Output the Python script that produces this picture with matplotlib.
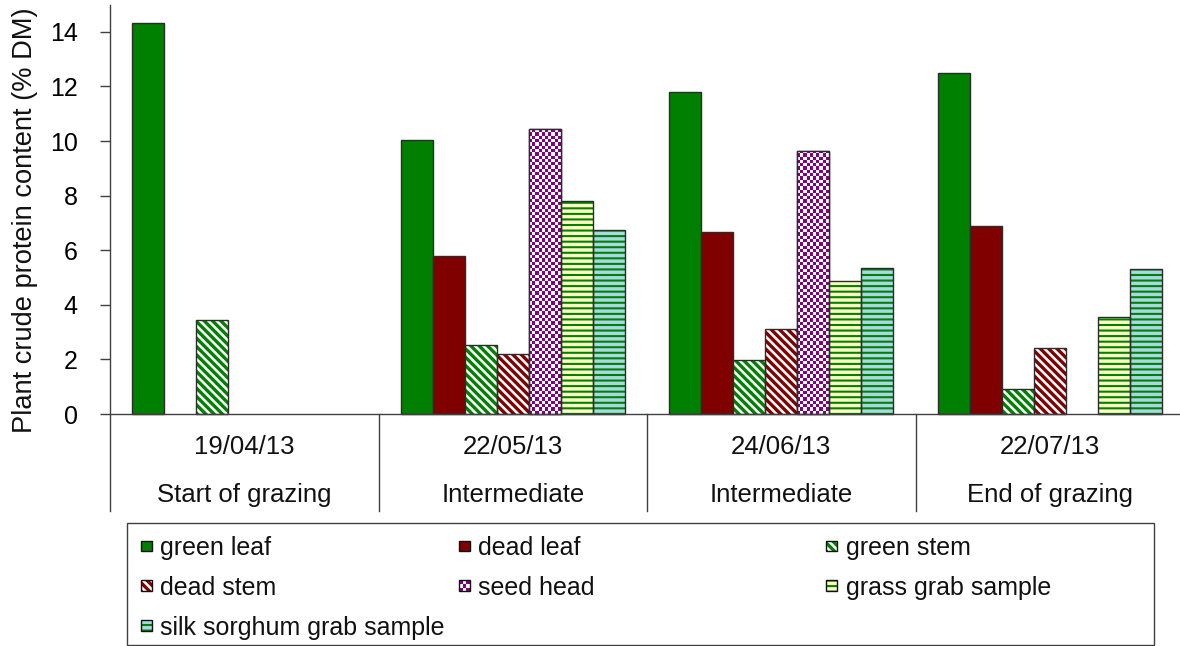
import numpy as np
import matplotlib
matplotlib.use('Agg')
import matplotlib.pyplot as plt
from matplotlib.patches import Rectangle
from matplotlib.colors import ListedColormap
from matplotlib.legend_handler import HandlerBase

plt.rcParams['font.family'] = ['Liberation Sans', 'DejaVu Sans']
plt.rcParams['hatch.linewidth'] = 2.0

# ---------------- data ----------------
dates = ['19/04/13', '22/05/13', '24/06/13', '22/07/13']
stages = ['Start of grazing', 'Intermediate', 'Intermediate', 'End of grazing']
components = ['green leaf', 'dead leaf', 'green stem', 'dead stem',
              'seed head', 'grass grab sample', 'silk sorghum grab sample']
nan = np.nan
green_leaf = [14.34, 10.04, 11.80, 12.50]
dead_leaf = [nan, 5.79, 6.68, 6.90]
green_stem = [3.44, 2.54, 1.98, 0.92]
dead_stem = [nan, 2.21, 3.11, 2.42]
seed_head = [nan, 10.43, 9.64, nan]
grass_grab = [nan, 7.80, 4.87, 3.55]
silk_sorghum = [nan, 6.73, 5.35, 5.31]
series = [green_leaf, dead_leaf, green_stem, dead_stem, seed_head, grass_grab, silk_sorghum]
yticks = [0, 2, 4, 6, 8, 10, 12, 14]

# ---------------- styles ----------------
GREEN = '#008000'
MAROON = '#800000'
PURPLE = '#800080'
EDGE = '#2b2b2b'
styles = [
    dict(fill=GREEN, hcol=GREEN, hatch=None, checker=False, hlw=None),
    dict(fill=MAROON, hcol=MAROON, hatch=None, checker=False, hlw=None),
    dict(fill='white', hcol=GREEN, hatch='\\\\\\\\', checker=False, hlw=2.4),
    dict(fill='white', hcol=MAROON, hatch='\\\\\\\\', checker=False, hlw=2.4),
    dict(fill='white', hcol=PURPLE, hatch=None, checker=True, hlw=None),
    dict(fill='#FFFFC4', hcol=GREEN, hatch='---', checker=False, hlw=1.5),
    dict(fill='#A8D8E4', hcol=GREEN, hatch='---', checker=False, hlw=1.5),
]

W, H = 1180, 646
fig = plt.figure(figsize=(W / 100, H / 100), dpi=100)
y_bottom_px, y_top_px = 511, 4.6
ax = fig.add_axes([110 / W, (H - y_bottom_px) / H, 1074 / W, (y_bottom_px - y_top_px) / H])
YMIN, YMAX = -3.55, 15
ax.set_xlim(0, 4)
ax.set_ylim(YMIN, YMAX)

ngroups = len(dates)
centers = np.arange(ngroups) + 0.5
bw = 32 / 268.5

fig.canvas.draw()
px_per_x = ax.transData.transform((1, 0))[0] - ax.transData.transform((0, 0))[0]
px_per_y = ax.transData.transform((0, 1))[1] - ax.transData.transform((0, 0))[1]

checker_cmap = ListedColormap(['white', PURPLE])

for j, (vals, st) in enumerate(zip(series, styles)):
    xs = centers + (j - 3) * bw
    vals = np.array(vals, dtype=float)
    if st['hatch'] is None and not st['checker']:
        ax.bar(xs, vals, bw, color=st['fill'], edgecolor=EDGE, linewidth=1, zorder=2)
    elif st['hatch'] is not None:
        bars = ax.bar(xs, vals, bw, color=st['fill'], edgecolor=st['hcol'],
                      hatch=st['hatch'], linewidth=0, zorder=2)
        for b in bars:
            if hasattr(b, 'set_hatch_linewidth'):
                b.set_hatch_linewidth(st['hlw'])
        ax.bar(xs, vals, bw, fill=False, edgecolor=EDGE, linewidth=1, zorder=2.3)
    else:
        bars = ax.bar(xs, vals, bw, color='white', edgecolor=EDGE, linewidth=1, zorder=2)
        for b, x, v in zip(bars, xs, vals):
            if not np.isfinite(v):
                continue
            ncol = max(1, int(round(bw * px_per_x / 3.3)))
            nrow = max(1, int(round(v * px_per_y / 3.3)))
            ii, jj = np.indices((nrow, ncol))
            arr = ((ii + jj) % 2).astype(float)
            im = ax.imshow(arr, cmap=checker_cmap, vmin=0, vmax=1,
                           extent=(x - bw / 2, x + bw / 2, 0, v), aspect='auto',
                           interpolation='nearest', zorder=2.1)
            im.set_clip_path(b)
        ax.bar(xs, vals, bw, fill=False, edgecolor=EDGE, linewidth=1, zorder=2.3)

ax.set_xlim(0, 4)
ax.set_ylim(YMIN, YMAX)
ax.set_aspect('auto')

# axes styling
for s in ['top', 'right', 'bottom']:
    ax.spines[s].set_visible(False)
ax.spines['left'].set_color('#404040')
ax.spines['left'].set_linewidth(1)
ax.set_yticks(yticks)
ax.set_yticklabels([str(t) for t in yticks], fontsize=18)
ax.tick_params(axis='y', direction='out', length=7.2, width=1, color='#404040', pad=16)
ax.set_xticks([])

# category axis line and separators
ax.plot([0, 4], [0, 0], color='#404040', lw=1, zorder=3, clip_on=False)
for k in range(1, ngroups + 1):
    ax.plot([k, k], [0, YMIN], color='#404040', lw=1, zorder=3, clip_on=False)
for i in range(ngroups):
    ax.text(centers[i], -1.21, dates[i], ha='center', va='center', fontsize=18.5, color='#111111')
    ax.text(centers[i], -2.97, stages[i], ha='center', va='center', fontsize=18.5, color='#111111')

ax.set_ylabel('Plant crude protein content (% DM)', fontsize=19.6, color='#111111')
ax.yaxis.set_label_coords(38 / W, 1 - 220 / H, transform=fig.transFigure)
ax.yaxis.label.set_va('bottom')


# ---------------- legend ----------------
class SwatchHandler(HandlerBase):
    def create_artists(self, legend, orig_handle, xdescent, ydescent,
                       width, height, fontsize, trans):
        st = orig_handle._style
        x0, y0 = -xdescent, -ydescent
        side = height
        x0 = x0 + (width - side) / 2
        arts = []
        base = Rectangle((x0, y0), side, side, facecolor=st['fill'],
                         edgecolor=st['hcol'], hatch=st['hatch'], linewidth=0,
                         transform=trans)
        if st['hlw'] and hasattr(base, 'set_hatch_linewidth'):
            base.set_hatch_linewidth(st['hlw'])
        arts.append(base)
        if st['checker']:
            n = 3
            c = side / n
            for a in range(n):
                for b in range(n):
                    if (a + b) % 2 == 0:
                        arts.append(Rectangle((x0 + a * c, y0 + b * c), c, c,
                                              facecolor=PURPLE, linewidth=0, transform=trans))
        arts.append(Rectangle((x0, y0), side, side, fill=False, edgecolor='#111111',
                              linewidth=1, transform=trans))
        return arts


handles = []
for st in styles:
    h = Rectangle((0, 0), 1, 1)
    h._style = st
    handles.append(h)

columns = [[0, 3, 6], [1, 4], [2, 5]]
col_x = [143, 461, 828]
for cols, cx in zip(columns, col_x):
    fig.legend([handles[i] for i in cols], [components[i] for i in cols],
               loc='upper left', bbox_to_anchor=(cx / W, 1 - 536 / H),
               frameon=False, borderpad=0, borderaxespad=0, fontsize=18,
               handlelength=0.28, handleheight=0.28, handletextpad=0.42,
               labelspacing=0.63, handler_map={Rectangle: SwatchHandler()},
               labelcolor='#111111')

frame = Rectangle((127 / W, 1 - 645 / H), (1154 - 127) / W, (645 - 523) / H,
                  transform=fig.transFigure, fill=False, edgecolor='#404040', linewidth=1)
fig.add_artist(frame)

fig.savefig('out.png', dpi=100)
